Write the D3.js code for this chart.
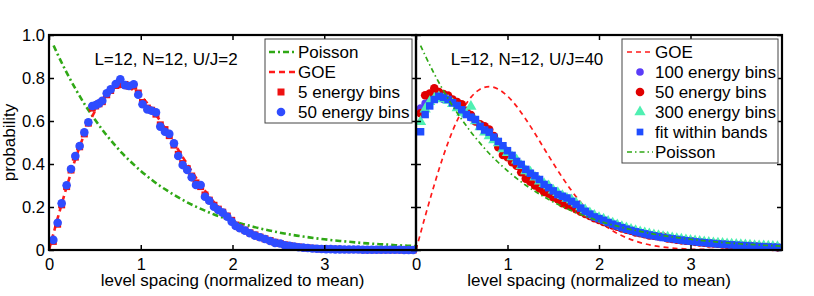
<!DOCTYPE html>
<html><head><meta charset="utf-8">
<script src="https://cdn.jsdelivr.net/npm/d3@7/dist/d3.min.js"></script>
<style>body{margin:0;background:#fff}svg{display:block;font-family:"Liberation Sans",Arial,Helvetica,sans-serif}</style>
</head><body><svg id="c" width="814" height="296"></svg>
<script>
// ---------- data ----------
const xTicks = [0, 1, 2, 3];
const yTicks = [0, 0.2, 0.4, 0.6, 0.8, 1.0];
const yTickLabels = ["0", "0.2", "0.4", "0.6", "0.8", "1.0"];
const xLabel = "level spacing (normalized to mean)";
const yLabel = "probability";
const titleLeft = "L=12, N=12, U/J=2";
const titleRight = "L=12, N=12, U/J=40";

const goeS = [0,0.1,0.2,0.3,0.4,0.5,0.6,0.7,0.8,0.9,1.0,1.1,1.2,1.3,1.4,1.5,1.6,1.7,1.8,1.9,2.0,2.1,2.2,2.3,2.4,2.5,2.6,2.7,2.8,2.9,3.0,3.1,3.2,3.3,3.4,3.5,3.6,3.7,3.8,3.9,4.0];
const goeP = [0,0.156,0.304,0.439,0.554,0.645,0.710,0.748,0.760,0.748,0.716,0.668,0.608,0.542,0.472,0.403,0.337,0.276,0.222,0.175,0.136,0.103,0.077,0.057,0.041,0.029,0.020,0.014,0.009,0.006,0.004,0.003,0.002,0.001,0.001,0,0,0,0,0,0];
const poisS = [0.05,0.1,0.2,0.3,0.4,0.5,0.6,0.7,0.8,0.9,1.0,1.1,1.2,1.3,1.4,1.5,1.6,1.7,1.8,1.9,2.0,2.1,2.2,2.3,2.4,2.5,2.6,2.7,2.8,2.9,3.0,3.1,3.2,3.3,3.4,3.5,3.6,3.7,3.8,3.9,4.0];
const poisP = [0.951,0.905,0.819,0.741,0.670,0.607,0.549,0.497,0.449,0.407,0.368,0.333,0.301,0.273,0.247,0.223,0.202,0.183,0.165,0.150,0.135,0.122,0.111,0.100,0.091,0.082,0.074,0.067,0.061,0.055,0.050,0.045,0.041,0.037,0.033,0.030,0.027,0.025,0.022,0.020,0.018];

// left panel (U/J=2)
const leftS = [0.047,0.094,0.138,0.192,0.240,0.287,0.334,0.385,0.429,0.472,0.509,0.545,0.581,0.629,0.672,0.727,0.777,0.828,0.872,0.923,0.973,1.019,1.072,1.119,1.166,1.213,1.264,1.311,1.362,1.409,1.457,1.507,1.555,1.602,1.653,1.700,1.747,1.798,1.845,1.893,1.943,1.991,2.035,2.080,2.136,2.190,2.245,2.300,2.354,2.410,2.463,2.520,2.570,2.620,2.670,2.720,2.770,2.820,2.870,2.920,2.970,3.020,3.070,3.120,3.170,3.220,3.270,3.320,3.370,3.420,3.470,3.520,3.570,3.620,3.670,3.720,3.770,3.820,3.870,3.920,3.970];
const left50bins = [0.047,0.127,0.217,0.301,0.377,0.437,0.484,0.547,0.594,0.670,0.674,0.682,0.694,0.729,0.747,0.772,0.794,0.767,0.763,0.771,0.722,0.678,0.654,0.648,0.640,0.574,0.550,0.540,0.496,0.437,0.395,0.372,0.338,0.302,0.302,0.248,0.229,0.201,0.186,0.174,0.155,0.132,0.112,0.101,0.090,0.078,0.067,0.059,0.051,0.042,0.033,0.030,0.022,0.019,0.016,0.013,0.011,0.009,0.007,0.006,0.005,0.004,0.004,0.003,0.003,0.002,0.002,0.002,0.002,0.001,0.001,0.001,0.001,0.001,0.001,0.001,0.001,0.001,0,0,0];
const left5bins = [0.040,0.120,0.210,0.295,0.372,0.432,0.480,0.540,0.590,0.660,0.670,0.680,0.690,0.722,0.742,0.765,0.772,0.770,0.762,0.762,0.730,0.686,0.660,0.650,0.632,0.582,0.560,0.532,0.488,0.445,0.402,0.378,0.344,0.312,0.295,0.256,0.232,0.208,0.190,0.176,0.158,0.138,0.116,0.104,0.092,0.080,0.070,0.060,0.052,0.044,0.036,0.030,0.024,0.020,0.017,0.014,0.011,0.009,0.008,0.006,0.005,0.004,0.004,0.003,0.003,0.002,0.002,0.002,0.002,0.001,0.001,0.001,0.001,0.001,0.001,0.001,0.001,0.001,0,0,0];

// right panel (U/J=40)
const rightS = [0.05,0.10,0.15,0.20,0.25,0.30,0.35,0.40,0.45,0.50,0.55,0.60,0.65,0.70,0.75,0.80,0.85,0.90,0.95,1.00,1.05,1.10,1.15,1.20,1.25,1.30,1.35,1.40,1.45,1.50,1.55,1.60,1.65,1.70,1.75,1.80,1.85,1.90,1.95,2.00,2.05,2.10,2.15,2.20,2.25,2.30,2.35,2.40,2.45,2.50,2.55,2.60,2.65,2.70,2.75,2.80,2.85,2.90,2.95,3.00,3.05,3.10,3.15,3.20,3.25,3.30,3.35,3.40,3.45,3.50,3.55,3.60,3.65,3.70,3.75,3.80,3.85,3.90,3.95];
const right100bins = [0.660,0.682,0.700,0.715,0.715,0.700,0.702,0.690,0.675,0.655,0.638,0.615,0.598,0.578,0.560,0.540,0.520,0.498,0.478,0.455,0.432,0.410,0.390,0.368,0.352,0.338,0.322,0.302,0.288,0.270,0.256,0.245,0.236,0.222,0.208,0.192,0.178,0.165,0.153,0.144,0.135,0.126,0.118,0.110,0.103,0.096,0.090,0.085,0.079,0.074,0.070,0.066,0.062,0.058,0.055,0.052,0.049,0.046,0.043,0.041,0.038,0.036,0.034,0.032,0.030,0.028,0.027,0.025,0.024,0.022,0.021,0.020,0.019,0.017,0.016,0.015,0.014,0.013,0.012];
const right50bins = [0.636,0.720,0.728,0.752,0.735,0.725,0.718,0.700,0.688,0.678,0.648,0.628,0.598,0.585,0.575,0.560,0.530,0.478,0.442,0.432,0.408,0.392,0.362,0.332,0.318,0.300,0.286,0.270,0.262,0.245,0.236,0.218,0.208,0.200,0.190,0.178,0.168,0.158,0.148,0.140,0.130,0.124,0.114,0.108,0.100,0.094,0.090,0.082,0.078,0.074,0.068,0.066,0.064,0.062,0.054,0.051,0.048,0.045,0.043,0.042,0.038,0.035,0.034,0.031,0.030,0.029,0.026,0.025,0.023,0.022,0.021,0.019,0.019,0.018,0.016,0.015,0.015,0.014,0.013];
const right300bins = [0.597,0.655,0.690,0.705,0.712,0.702,0.695,0.680,0.660,0.640,0.632,0.667,0.600,0.572,0.548,0.530,0.512,0.498,0.470,0.452,0.432,0.418,0.392,0.368,0.362,0.338,0.320,0.308,0.298,0.278,0.266,0.252,0.240,0.232,0.218,0.200,0.186,0.172,0.160,0.150,0.143,0.132,0.124,0.116,0.108,0.102,0.095,0.090,0.084,0.079,0.074,0.070,0.066,0.062,0.059,0.056,0.052,0.050,0.047,0.044,0.042,0.040,0.037,0.035,0.033,0.031,0.030,0.028,0.027,0.025,0.024,0.023,0.022,0.020,0.019,0.018,0.017,0.016,0.015];
const rightFit = [0.550,0.630,0.670,0.700,0.715,0.710,0.700,0.685,0.672,0.652,0.630,0.618,0.607,0.575,0.558,0.548,0.525,0.505,0.485,0.462,0.440,0.412,0.398,0.375,0.357,0.345,0.328,0.305,0.290,0.275,0.258,0.250,0.242,0.226,0.212,0.195,0.180,0.167,0.154,0.146,0.138,0.128,0.120,0.112,0.104,0.097,0.091,0.085,0.080,0.075,0.070,0.066,0.062,0.058,0.055,0.052,0.049,0.046,0.043,0.041,0.038,0.036,0.034,0.032,0.030,0.028,0.027,0.025,0.024,0.022,0.021,0.020,0.019,0.017,0.016,0.015,0.014,0.013,0.012];

const legendLeft = ["Poisson", "GOE", "5 energy bins", "50 energy bins"];
const legendRight = ["GOE", "100 energy bins", "50 energy bins", "300 energy bins", "fit within bands", "Poisson"];

// ---------- styles ----------
const C = {
  green: "#2fa815", red: "#ff1a1a", blue: "#2f4cff", sqRed: "#ee1111",
  purple: "#5a3cf8", redDot: "#e00000", aqua: "#4ff0b2", blueSq: "#1f4dff"
};

const svg = d3.select("#c");
svg.append("rect").attr("width", 814).attr("height", 296).attr("fill", "#fff");

const y = d3.scaleLinear().domain([0, 1]).range([250, 35]);
const xL = d3.scaleLinear().domain([0, 4]).range([49, 416]);
const xR = d3.scaleLinear().domain([0, 4]).range([416, 782]);

function pts(xs, ys) { const n = Math.min(xs.length, ys.length); return d3.range(n).map(i => [xs[i], ys[i]]); }

function drawLine(g, x, xs, ys, color, w, dash) {
  const line = d3.line().x(d => x(d[0])).y(d => y(d[1])).curve(d3.curveMonotoneX);
  g.append("path").datum(pts(xs, ys)).attr("d", line).attr("fill", "none")
    .attr("stroke", color).attr("stroke-width", w).attr("stroke-dasharray", dash);
}
function drawCircles(g, x, xs, ys, color, r) {
  g.append("g").selectAll("circle").data(pts(xs, ys)).join("circle")
    .attr("cx", d => x(d[0])).attr("cy", d => y(d[1])).attr("r", r).attr("fill", color);
}
function drawSymbols(g, x, xs, ys, color, type, size) {
  const sym = d3.symbol().type(type).size(size);
  g.append("g").selectAll("path").data(pts(xs, ys)).join("path")
    .attr("transform", d => `translate(${x(d[0])},${y(d[1])})`).attr("d", sym).attr("fill", color);
}

function frame(x, showYLabels, xLabelStr) {
  const g = svg.append("g");
  const x0 = x.range()[0], x1 = x.range()[1];
  const tickStyle = sel => { sel.select(".domain").remove(); sel.selectAll("line").attr("stroke", "#000").attr("stroke-width", 1.5); sel.selectAll("text").attr("fill", "#000").style("font-size", "16.5px").style("font-family", "Liberation Sans, Arial, sans-serif"); };
  g.append("g").attr("transform", `translate(0,250)`).call(d3.axisBottom(x).tickValues(xTicks).tickFormat(d3.format("d")).tickSize(-5).tickPadding(8)).call(tickStyle);
  g.append("g").attr("transform", `translate(0,35)`).call(d3.axisTop(x).tickValues(xTicks).tickFormat("").tickSize(-5)).call(tickStyle);
  g.append("g").attr("transform", `translate(${x0},0)`).call(d3.axisLeft(y).tickValues(yTicks).tickFormat(showYLabels ? ((d, i) => yTickLabels[i]) : "").tickSize(-5).tickPadding(4)).call(tickStyle);
  g.append("g").attr("transform", `translate(${x1},0)`).call(d3.axisRight(y).tickValues(yTicks).tickFormat("").tickSize(-5)).call(tickStyle);
  g.append("rect").attr("x", x0).attr("y", 35).attr("width", x1 - x0).attr("height", 215)
    .attr("fill", "none").attr("stroke", "#000").attr("stroke-width", 2.2);
  g.append("text").attr("x", (x0 + x1) / 2).attr("y", 286).attr("text-anchor", "middle")
    .style("font-size", "17px").text(xLabelStr);
}

// ---------- left panel ----------
const gl = svg.append("g");
drawLine(gl, xL, poisS, poisP, C.green, 2.6, "6,3,2,3");
drawLine(gl, xL, goeS, goeP, C.red, 2.6, "6,4");
drawSymbols(gl, xL, leftS, left5bins, C.sqRed, d3.symbolSquare, 49);
drawCircles(gl, xL, leftS, left50bins, C.blue, 4.3);

// ---------- right panel ----------
const gr = svg.append("g");
drawLine(gr, xR, goeS, goeP, C.red, 1.7, "5,4");
drawCircles(gr, xR, rightS, right100bins, C.purple, 3.8);
drawCircles(gr, xR, rightS, right50bins, C.redDot, 4.3);
drawSymbols(gr, xR, rightS, right300bins, C.aqua, d3.symbolTriangle, 55);
drawSymbols(gr, xR, rightS, rightFit, C.blueSq, d3.symbolSquare, 56);
drawLine(gr, xR, poisS, poisP, C.green, 1.7, "5,3,1.5,3");

frame(xL, true, xLabel);
frame(xR, false, xLabel);

svg.append("text").attr("transform", "translate(15,142.5) rotate(-90)").attr("text-anchor", "middle")
  .style("font-size", "17px").text(yLabel);

svg.append("text").attr("x", 166).attr("y", 65).attr("text-anchor", "middle").style("font-size", "17px").text(titleLeft);
svg.append("text").attr("x", 527).attr("y", 65).attr("text-anchor", "middle").style("font-size", "17px").text(titleRight);

// ---------- legends ----------
function legendBox(x0, y0, w, h) {
  svg.append("rect").attr("x", x0).attr("y", y0).attr("width", w).attr("height", h)
    .attr("fill", "#fff").attr("stroke", "#444").attr("stroke-width", 1);
}
function legText(x0, yc, s) {
  svg.append("text").attr("x", x0).attr("y", yc + 6).style("font-size", "17px").text(s);
}
function legLine(x0, x1, yc, color, w, dash) {
  svg.append("line").attr("x1", x0).attr("x2", x1).attr("y1", yc).attr("y2", yc)
    .attr("stroke", color).attr("stroke-width", w).attr("stroke-dasharray", dash);
}
function legSym(cx, cy, color, type, size) {
  svg.append("path").attr("transform", `translate(${cx},${cy})`).attr("d", d3.symbol().type(type).size(size)()).attr("fill", color);
}

// left legend
legendBox(265, 39, 147, 84);
const llY = [52, 72, 92, 112];
legLine(269, 295, llY[0], C.green, 2.6, "6,3,2,3");
legLine(269, 295, llY[1], C.red, 2.6, "6,4");
legSym(281, llY[2], C.sqRed, d3.symbolSquare, 49);
svg.append("circle").attr("cx", 281).attr("cy", llY[3]).attr("r", 4.3).attr("fill", C.blue);
legendLeft.forEach((s, i) => legText(298, llY[i], s));

// right legend
legendBox(622, 39, 156, 124);
const lrY = [52, 72, 92, 112, 132, 152];
legLine(627, 653, lrY[0], C.red, 1.7, "5,4");
svg.append("circle").attr("cx", 640).attr("cy", lrY[1]).attr("r", 3.8).attr("fill", C.purple);
svg.append("circle").attr("cx", 640).attr("cy", lrY[2]).attr("r", 4.3).attr("fill", C.redDot);
legSym(640, lrY[3], C.aqua, d3.symbolTriangle, 55);
legSym(640, lrY[4], C.blueSq, d3.symbolSquare, 45);
legLine(627, 653, lrY[5], C.green, 1.7, "5,3,1.5,3");
legendRight.forEach((s, i) => legText(655, lrY[i], s));
</script></body></html>
